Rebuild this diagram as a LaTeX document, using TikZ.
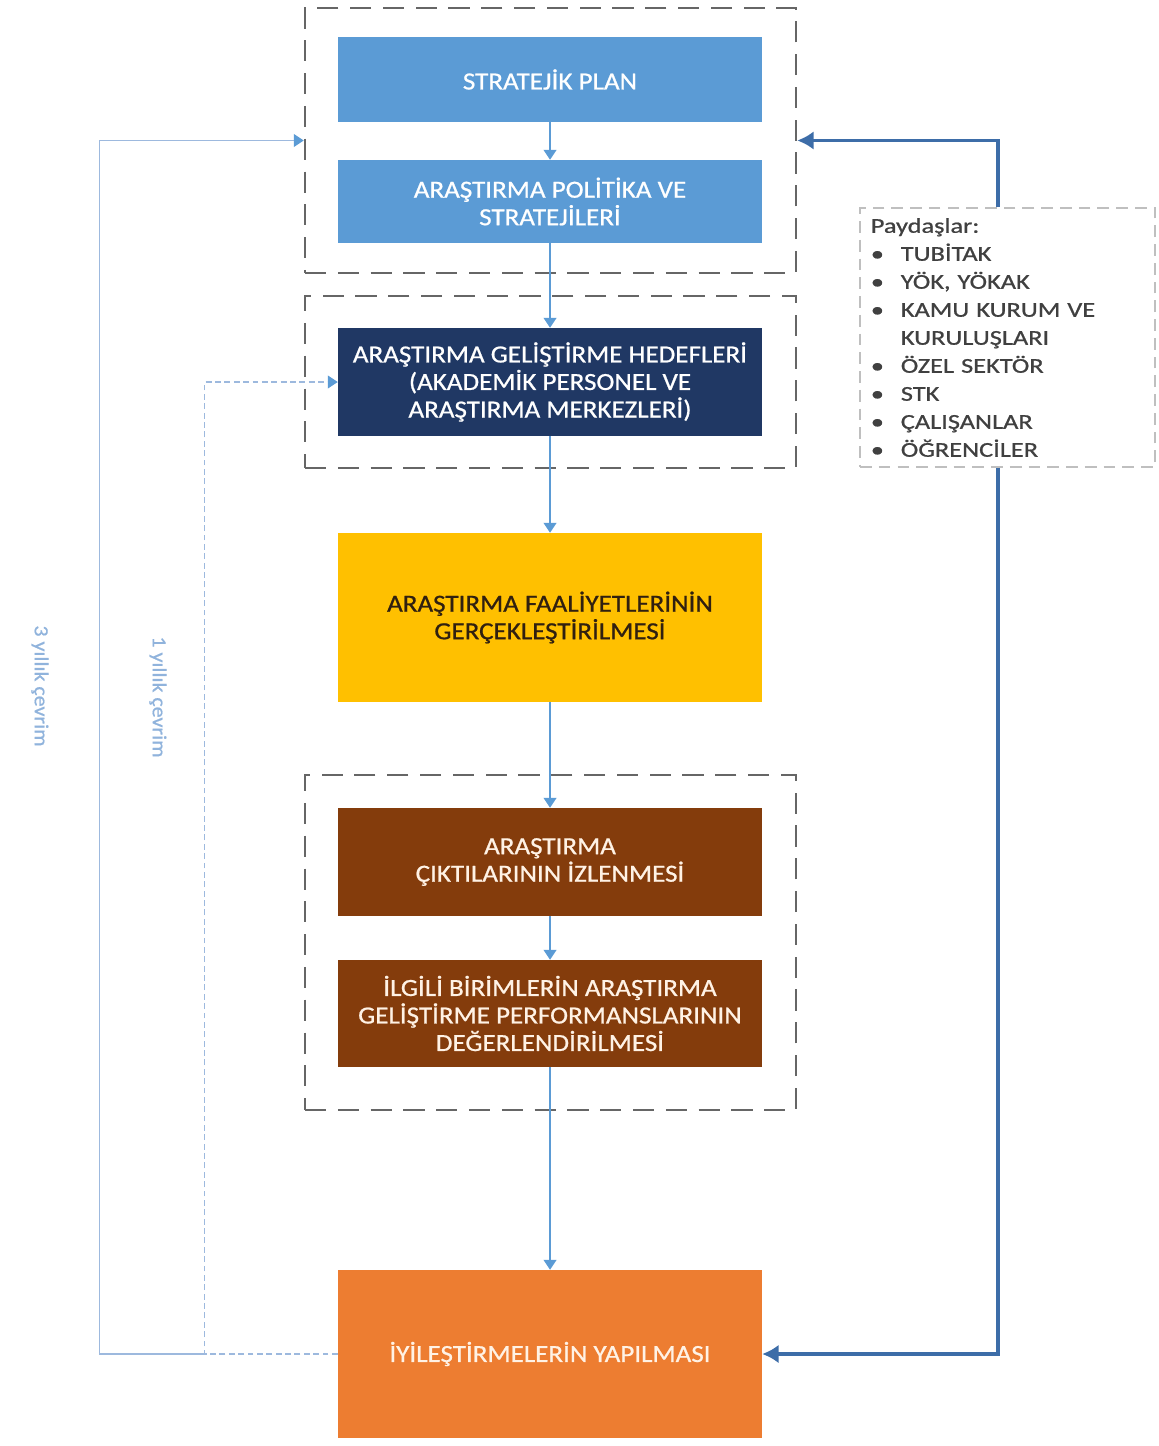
\documentclass[tikz,border=0pt]{standalone}
\usepackage{fontspec}
\setmainfont{Carlito}[FakeStretch=1.1, FakeBold=0.8]
\newfontfamily\pdfont{Carlito}[FakeStretch=1.25, FakeBold=0.8]
\usepackage{xcolor}
\usepackage{tikz}
\usetikzlibrary{positioning, arrows.meta}

\definecolor{planblue}{HTML}{5B9BD5}
\definecolor{navy}{HTML}{203864}
\definecolor{gold}{HTML}{FFC000}
\definecolor{rust}{HTML}{843C0C}
\definecolor{tangerine}{HTML}{ED7D31}
\definecolor{flowblue}{HTML}{5B9BD5}
\definecolor{loopblue}{HTML}{9DB9DE}
\definecolor{feedblue}{HTML}{3D6DA8}
\definecolor{grpgray}{HTML}{666666}

\begin{document}
\begin{tikzpicture}[x=0.3mm, y=-0.3mm,
    stepbox/.style={rectangle, minimum width=127.2mm, align=center, text=white,
      font=\fontsize{21}{23.5}\selectfont, inner sep=0pt},
    grp/.style={draw=grpgray, line width=2.2pt, dash pattern=on 18pt off 10pt,
      minimum width=147.3mm, inner sep=0pt},
    flow/.style={color=flowblue, line width=1.2pt, -{Triangle[width=11pt,length=8.5pt]}},
    loop/.style={color=loopblue, line width=1pt, -{Triangle[width=11pt,length=8.5pt,color=flowblue]}},
    feed/.style={color=feedblue, line width=3.4pt, -{Latex[width=16pt,length=14pt]}},
    looplbl/.style={text=loopblue!80!flowblue, font=\fontsize{17}{20}\selectfont, rotate=-90}]
  \useasboundingbox (0,0) rectangle (1158,1446);

  % dashed groups
  \node[grp, minimum height=79.5mm] (g1) at (550.5,140.5) {};
  \node[grp, minimum height=51.6mm] (g2) at (550.5,382) {};
  \node[grp, minimum height=100.5mm] (g3) at (550.5,942.5) {};

  % main steps
  \node[stepbox, fill=planblue, minimum height=25.5mm] (sp) at (550,79.5) {STRATEJİK PLAN};
  \node[stepbox, fill=planblue, minimum height=24.9mm] (ap) at (550,201.5)
    {ARAŞTIRMA POLİTİKA VE\\STRATEJİLERİ};
  \node[stepbox, fill=navy, minimum height=32.4mm] (hd) at (550,382)
    {ARAŞTIRMA GELİŞTİRME HEDEFLERİ\\(AKADEMİK PERSONEL VE\\ARAŞTIRMA MERKEZLERİ)};
  \node[stepbox, fill=gold, text=black!75!brown, minimum height=50.7mm] (fa) at (550,617.5)
    {ARAŞTIRMA FAALİYETLERİNİN\\GERÇEKLEŞTİRİLMESİ};
  \node[stepbox, fill=rust, text=white!90!orange, minimum height=32.4mm] (ci) at (550,862)
    {ARAŞTIRMA\\ÇIKTILARININ İZLENMESİ};
  \node[stepbox, fill=rust, text=white!90!orange, minimum height=32.1mm] (de) at (550,1013.5)
    {İLGİLİ BİRİMLERİN ARAŞTIRMA\\GELİŞTİRME PERFORMANSLARININ\\DEĞERLENDİRİLMESİ};
  \node[stepbox, fill=tangerine, text=white!90!orange, minimum height=50.4mm] (iy) at (550,1354)
    {İYİLEŞTİRMELERİN YAPILMASI};

  % stakeholders
  \node[draw=black!25, fill=white, line width=1pt, dash pattern=on 10pt off 6pt,
        minimum width=88.5mm, minimum height=77.7mm, text width=82mm, align=left,
        inner xsep=3mm, text=black!75, font=\pdfont\fontsize{18}{23.9}\selectfont] (pd) at (1007.5,337.5)
    {Paydaşlar:\\
     \makebox[9mm][l]{\textbullet}TUBİTAK\\
     \makebox[9mm][l]{\textbullet}YÖK, YÖKAK\\
     \makebox[9mm][l]{\textbullet}KAMU KURUM VE\\
     \hspace*{9mm}KURULUŞLARI\\
     \makebox[9mm][l]{\textbullet}ÖZEL SEKTÖR\\
     \makebox[9mm][l]{\textbullet}STK\\
     \makebox[9mm][l]{\textbullet}ÇALIŞANLAR\\
     \makebox[9mm][l]{\textbullet}ÖĞRENCİLER};

  \path[flow] (sp) edge (ap)
              (ap) edge (hd)
              (hd) edge (fa)
              (fa) edge (ci)
              (ci) edge (de)
              (de) edge (iy);

  % feedback from stakeholders
  \coordinate (rt) at (998,145);
  \draw[feed] (pd.north -| rt) |- (g1.east);
  \draw[feed] (pd.south -| rt) |- (iy.east);

  % cycles
  \path (iy.west) -- ++(-133,0) coordinate (j1);
  \draw[loop] (j1) -- ++(-105,0) |- (g1.west);
  \draw[loop, dash pattern=on 5pt off 3pt] (iy.west) -- (j1) |- (hd.west);
  \node[looplbl] (c3) at (40,686) {3 yıllık çevrim};
  \node[looplbl] (c1) at (158,697) {1 yıllık çevrim};
\end{tikzpicture}
\end{document}
